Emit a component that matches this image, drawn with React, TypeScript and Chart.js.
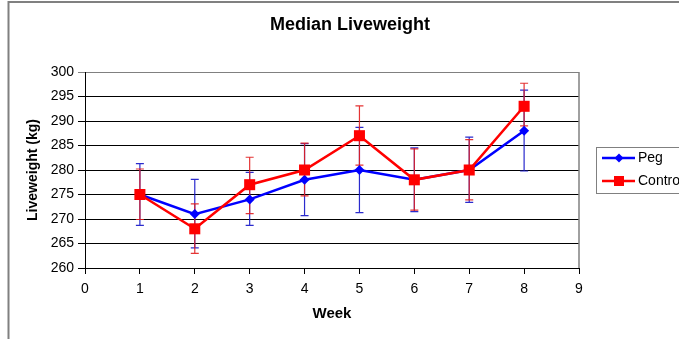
import React, { useEffect, useRef } from "react";
import { Chart, registerables } from "chart.js";

Chart.register(...registerables);

const weeks = [1, 2, 3, 4, 5, 6, 7, 8];
const peg = [275, 271, 274, 278, 280, 278, 280, 288];
const pegLow = [268.7, 264.1, 268.7, 270.7, 271.3, 271.5, 273.4, 279.8];
const pegHigh = [281.3, 278.1, 279.5, 285.4, 288.7, 284.5, 286.7, 296.3];
const control = [275, 268, 277, 280, 287, 278, 280, 293];
const controlLow = [269.9, 263.0, 271.1, 274.7, 281.0, 271.8, 273.9, 289.0];
const controlHigh = [280.2, 273.1, 282.6, 285.5, 293.1, 284.3, 286.2, 297.7];
const chartTitle = "Median Liveweight";

const FONT = "'Liberation Sans', Arial, sans-serif";

const errorBarPlugin = {
  id: "errorBars",
  beforeDatasetsDraw(chart: any) {
    const { ctx, scales } = chart;
    const xs = scales.x;
    const ys = scales.y;
    chart.data.datasets.forEach((ds: any) => {
      ctx.save();
      ctx.strokeStyle = ds.errColor;
      ctx.lineWidth = 1.2;
      weeks.forEach((w, i) => {
        const x = xs.getPixelForValue(w);
        const y1 = ys.getPixelForValue(ds.errLow[i]);
        const y2 = ys.getPixelForValue(ds.errHigh[i]);
        ctx.beginPath();
        ctx.moveTo(x, y1);
        ctx.lineTo(x, y2);
        ctx.moveTo(x - 4, y1);
        ctx.lineTo(x + 4, y1);
        ctx.moveTo(x - 4, y2);
        ctx.lineTo(x + 4, y2);
        ctx.stroke();
      });
      ctx.restore();
    });
  },
};

const framePlugin = {
  id: "frame",
  beforeDraw(chart: any) {
    const { ctx, width, height } = chart;
    ctx.save();
    ctx.fillStyle = "#ffffff";
    ctx.fillRect(0, 0, width, height);
    ctx.strokeStyle = "#808080";
    ctx.lineWidth = 2;
    ctx.beginPath();
    ctx.moveTo(8.5, height);
    ctx.lineTo(8.5, 2);
    ctx.lineTo(width, 2);
    ctx.stroke();
    ctx.fillStyle = "#000";
    ctx.font = "bold 18px " + FONT;
    ctx.textAlign = "center";
    ctx.textBaseline = "middle";
    ctx.fillText(chartTitle, 350, 25);
    ctx.restore();
  },
  afterDraw(chart: any) {
    const { ctx, chartArea } = chart;
    ctx.save();
    ctx.strokeStyle = "#808080";
    ctx.lineWidth = 1.5;
    ctx.beginPath();
    ctx.moveTo(chartArea.right, chartArea.bottom);
    ctx.lineTo(chartArea.right, chartArea.top);
    ctx.stroke();
    // legend
    const lx = 596.5;
    const ly = 147.5;
    ctx.strokeStyle = "#808080";
    ctx.lineWidth = 1;
    ctx.strokeRect(lx, ly, 120, 46);
    ctx.font = "14px " + FONT;
    ctx.textBaseline = "middle";
    ctx.textAlign = "left";
    chart.data.datasets.forEach((ds: any, i: number) => {
      const y = 158 + i * 23;
      ctx.strokeStyle = ds.borderColor;
      ctx.lineWidth = 2.5;
      ctx.beginPath();
      ctx.moveTo(602, y);
      ctx.lineTo(635, y);
      ctx.stroke();
      ctx.fillStyle = ds.borderColor;
      ctx.beginPath();
      if (ds.pointStyle === "rectRot") {
        ctx.moveTo(619, y - 4.5);
        ctx.lineTo(623.5, y);
        ctx.lineTo(619, y + 4.5);
        ctx.lineTo(614.5, y);
        ctx.closePath();
      } else {
        ctx.rect(614, y - 5, 10, 10);
      }
      ctx.fill();
      ctx.fillStyle = "#000";
      ctx.fillText(ds.label, 638, y);
    });
    ctx.restore();
  },
};

export default function App() {
  const ref = useRef<HTMLCanvasElement>(null);
  useEffect(() => {
    const chart = new Chart(ref.current as HTMLCanvasElement, {
      type: "line",
      data: {
        datasets: [
          {
            label: "Peg",
            data: weeks.map((w, i) => ({ x: w, y: peg[i] })),
            borderColor: "#0000ff",
            backgroundColor: "#0000ff",
            borderWidth: 2.5,
            pointStyle: "rectRot",
            pointRadius: 5,
            pointBorderWidth: 0,
            order: 1,
            errLow: pegLow,
            errHigh: pegHigh,
            errColor: "rgba(20,20,200,0.9)",
          } as any,
          {
            label: "Control",
            data: weeks.map((w, i) => ({ x: w, y: control[i] })),
            borderColor: "#ff0000",
            backgroundColor: "#ff0000",
            borderWidth: 2.5,
            pointStyle: "rect",
            pointRadius: 7.8,
            pointBorderWidth: 0,
            order: 0,
            errLow: controlLow,
            errHigh: controlHigh,
            errColor: "rgba(225,30,30,0.9)",
          } as any,
        ],
      },
      options: {
        animation: false,
        responsive: false,
        maintainAspectRatio: false,
        layout: { padding: { left: 0, right: 100, top: 72, bottom: 0 } },
        plugins: {
          legend: { display: false },
          tooltip: { enabled: false },
          title: { display: false },
        },
        scales: {
          x: {
            type: "linear",
            min: 0,
            max: 9,
            afterFit: (s: any) => {
              s.height = 71;
            },
            ticks: {
              stepSize: 1,
              color: "#000",
              padding: 7,
              font: { family: FONT, size: 14 },
            },
            grid: {
              drawOnChartArea: false,
              drawTicks: true,
              tickLength: 6,
              color: "#000",
            },
            border: { display: true, color: "#000", width: 1 },
            title: {
              display: true,
              text: "Week",
              color: "#000",
              font: { family: FONT, size: 15, weight: "bold" },
              padding: { top: 0, bottom: 16 },
            },
          },
          y: {
            type: "linear",
            min: 260,
            max: 300,
            afterFit: (s: any) => {
              s.width = 85;
            },
            ticks: {
              stepSize: 5,
              color: "#000",
              padding: 4,
              font: { family: FONT, size: 14 },
            },
            grid: {
              color: (c: any) => (c.tick && c.tick.value === 300 ? "#808080" : "#000"),
              lineWidth: 1,
              tickLength: 7,
            },
            border: { display: true, color: "#000", width: 1 },
            title: {
              display: true,
              text: "Liveweight (kg)",
              color: "#000",
              font: { family: FONT, size: 14, weight: "bold" },
              padding: { top: 24.6, bottom: 0 },
            },
          },
        },
      } as any,
      plugins: [framePlugin, errorBarPlugin],
    });
    return () => chart.destroy();
  }, []);
  return (
    <div style={{ position: "fixed", left: 0, top: 0, width: 679, height: 339, background: "#fff" }}>
      <canvas ref={ref} width={679} height={339} style={{ display: "block" }} />
    </div>
  );
}
